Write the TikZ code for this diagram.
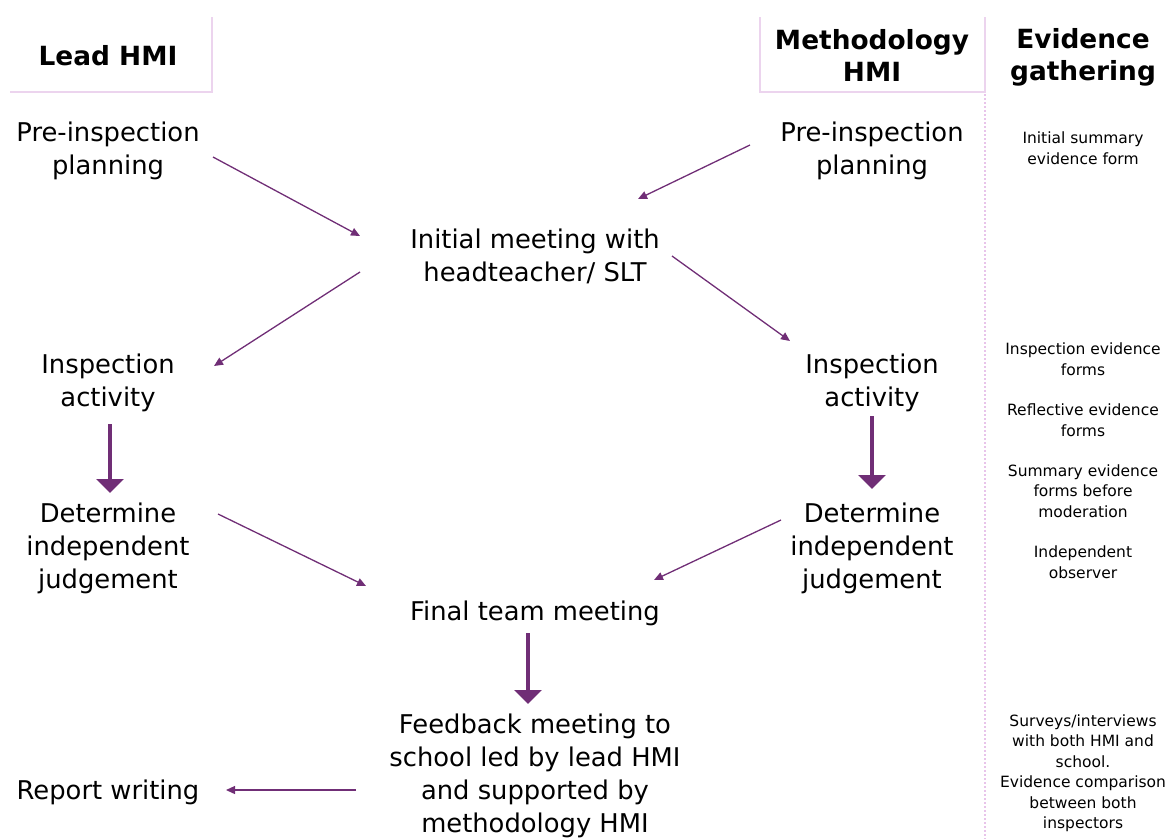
\documentclass[tikz,border=0pt]{standalone}
\usepackage{fontspec}
\setmainfont{DejaVu Sans}
\usetikzlibrary{arrows.meta}
\definecolor{purp}{RGB}{112,46,118}
\definecolor{hline}{RGB}{236,212,238}
\definecolor{dotc}{RGB}{232,196,234}
\tikzset{
  main/.style={font=\fontsize{25.8}{33}\selectfont, align=center, inner sep=0pt},
  hdr/.style={font=\bfseries\fontsize{26.4}{32}\selectfont, align=center, inner sep=0pt},
  ev/.style={font=\fontsize{15.5}{20.5}\selectfont, align=center, inner sep=0pt},
  thinarrow/.style={draw=purp, line width=1.3pt, -{Triangle[width=8pt,length=9pt]}},
  thickarrow/.style={draw=purp, line width=4pt, -{Triangle[width=27pt,length=14pt]}},
  sepline/.style={draw=hline, line width=1.5pt},
  dotline/.style={draw=dotc, line width=1.8pt, dash pattern=on 1.8pt off 2.2pt}
}
\begin{document}
\begin{tikzpicture}[x=1pt,y=-1pt]
\useasboundingbox (0,0) rectangle (1169,839);
% header frames
\draw[sepline] (10,92) -- (212,92) -- (212,17);
\draw[sepline] (760,17) -- (760,92) -- (985,92) -- (985,17);
\draw[dotline] (985,94) -- (985,839);
% headers
\node[hdr] (hl) at (108,56) {Lead HMI};
\node[hdr] (hm) at (872,55.5) {Methodology\\HMI};
\node[hdr] (he) at (1083,57) {Evidence\\gathering};
% main nodes
\node[main] (pl) at (108,151) {Pre-inspection\\planning};
\node[main] (pr) at (872,151) {Pre-inspection\\planning};
\node[main] (im) at (535,256) {Initial meeting with\\headteacher/ SLT};
\node[main] (il) at (108,383) {Inspection\\activity};
\node[main] (ir) at (872,383) {Inspection\\activity};
\node[main] (dl) at (108,548) {Determine\\independent\\judgement};
\node[main] (dr) at (872,548) {Determine\\independent\\judgement};
\node[main] (ft) at (535,613) {Final team meeting};
\node[main] (fb) at (535,776) {Feedback meeting to\\school led by lead HMI\\and supported by\\methodology HMI};
\node[main] (rw) at (108,792) {Report writing};
% evidence column
\node[ev] (e1) at (1083,148) {Initial summary\\evidence form};
\node[ev] (e2) at (1083,359) {Inspection evidence\\forms};
\node[ev] (e3) at (1083,420) {Reflective evidence\\forms};
\node[ev] (e4) at (1083,491) {Summary evidence\\forms before\\moderation};
\node[ev] (e5) at (1083,562) {Independent\\observer};
\node[ev] (e6) at (1083,773) {Surveys/interviews\\with both HMI and\\school.\\Evidence comparison\\between both\\inspectors};
% arrow end points
\coordinate (a1s) at (213,157); \coordinate (a1e) at (360,236);
\coordinate (a2s) at (750,145); \coordinate (a2e) at (638,199);
\coordinate (a3s) at (360,272); \coordinate (a3e) at (214,366);
\coordinate (a4s) at (672,256); \coordinate (a4e) at (790,341);
\coordinate (a5s) at (110,424); \coordinate (a5e) at (110,493);
\coordinate (a6s) at (872,416); \coordinate (a6e) at (872,489);
\coordinate (a7s) at (218,514); \coordinate (a7e) at (366,586);
\coordinate (a8s) at (781,520); \coordinate (a8e) at (654,580);
\coordinate (a9s) at (528,633); \coordinate (a9e) at (528,704);
\coordinate (a10s) at (356,790); \coordinate (a10e) at (226,790);
% arrows
\draw[thinarrow] (a1s) -- (a1e);
\draw[thinarrow] (a2s) -- (a2e);
\draw[thinarrow] (a3s) -- (a3e);
\draw[thinarrow] (a4s) -- (a4e);
\draw[thickarrow] (a5s) -- (a5e);
\draw[thickarrow] (a6s) -- (a6e);
\draw[thinarrow] (a7s) -- (a7e);
\draw[thinarrow] (a8s) -- (a8e);
\draw[thickarrow] (a9s) -- (a9e);
\draw[thinarrow] (a10s) -- (a10e);
\end{tikzpicture}
\end{document}
